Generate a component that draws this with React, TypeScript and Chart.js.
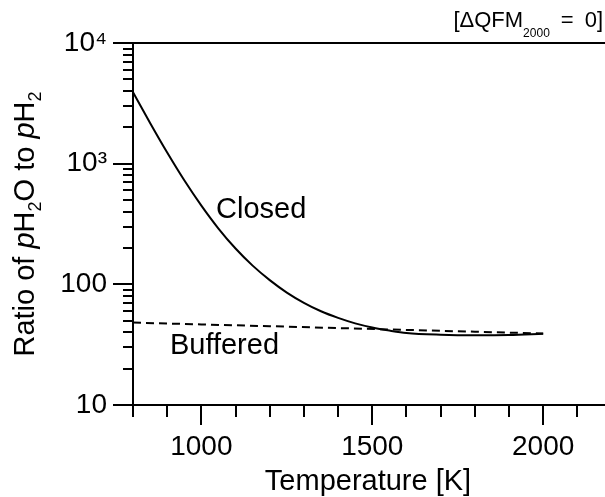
import React, { useEffect, useRef } from 'react';
import { Chart, registerables } from 'chart.js';

Chart.register(...registerables);

const FONT = '"Liberation Sans", Arial, Helvetica, sans-serif';

// Closed system curve (temperature K -> pH2O/pH2 ratio)
const closedTemperatureK = [800, 850, 900, 950, 1000, 1050, 1100, 1150, 1200, 1250, 1300, 1350, 1400, 1450, 1500, 1550, 1600, 1700, 1800, 1900, 2000];
const closedRatio = [3908, 2173, 1236, 728, 449, 290, 198, 142.9, 108.4, 85.5, 70.3, 59.8, 52.7, 47.5, 43.9, 41.4, 39.5, 38.2, 37.8, 38.0, 38.9];

// Buffered curve
const bufferedTemperatureK = [800, 1000, 1200, 1400, 1600, 1800, 2000];
const bufferedRatio = [48.2, 46.5, 45.0, 43.4, 41.9, 40.5, 39.1];

// Axes
const xRange = [800, 2175];
const xTickValues = [1000, 1500, 2000];
const xTickLabels = ['1000', '1500', '2000'];
const xMinorStep = 100;
const yRange = [10, 10000];
const yTickValues = [10, 100, 1000, 10000];
const yTickLabels = ['10', '100', '10³', '10⁴'];

// Text
const xTitle = 'Temperature [K]';
const closedLabel = 'Closed';
const bufferedLabel = 'Buffered';
const closedLabelAt = [1043, 355];
const bufferedLabelAt = [908, 26.6];

const decorPlugin = {
  id: 'decor',
  afterDraw(chart: any) {
    const ctx = chart.ctx as CanvasRenderingContext2D;
    const { left, right, top, bottom } = chart.chartArea;
    const xs = chart.scales.x;
    const ys = chart.scales.y;
    ctx.save();
    ctx.strokeStyle = '#000';
    ctx.fillStyle = '#000';
    ctx.lineWidth = 2;
    ctx.lineCap = 'butt';

    // axes lines + top frame
    ctx.beginPath();
    ctx.moveTo(left, top - 1);
    ctx.lineTo(left, bottom + 1);
    ctx.moveTo(left - 1, bottom);
    ctx.lineTo(chart.width, bottom);
    ctx.moveTo(left - 1, top);
    ctx.lineTo(chart.width, top);
    ctx.stroke();

    // x ticks
    for (let v = xRange[0]; v <= xRange[1]; v += xMinorStep) {
      const px = Math.round(xs.getPixelForValue(v));
      const len = xTickValues.includes(v) ? 20 : 12;
      ctx.beginPath();
      ctx.moveTo(px, bottom);
      ctx.lineTo(px, bottom + len);
      ctx.stroke();
    }
    // y ticks (log)
    for (let d = yRange[0]; d <= yRange[1]; d *= 10) {
      for (let m = 1; m <= 9; m++) {
        const v = d * m;
        if (v > yRange[1]) break;
        const py = Math.round(ys.getPixelForValue(v));
        const len = m === 1 ? 20 : 10;
        ctx.beginPath();
        ctx.moveTo(left, py);
        ctx.lineTo(left - len, py);
        ctx.stroke();
      }
    }

    // curve labels
    ctx.font = `29px ${FONT}`;
    ctx.textAlign = 'left';
    ctx.textBaseline = 'alphabetic';
    ctx.fillText(closedLabel, xs.getPixelForValue(closedLabelAt[0]), ys.getPixelForValue(closedLabelAt[1]));
    ctx.fillText(bufferedLabel, xs.getPixelForValue(bufferedLabelAt[0]), ys.getPixelForValue(bufferedLabelAt[1]));

    // y title with italic p and subscripts
    const segs: [string, string, number][] = [
      ['Ratio of ', `29px ${FONT}`, 0],
      ['p', `italic 29px ${FONT}`, 0],
      ['H', `29px ${FONT}`, 0],
      ['2', `18px ${FONT}`, 7],
      ['O to ', `29px ${FONT}`, 0],
      ['p', `italic 29px ${FONT}`, 0],
      ['H', `29px ${FONT}`, 0],
      ['2', `18px ${FONT}`, 7],
    ];
    let total = 0;
    for (const s of segs) { ctx.font = s[1]; total += ctx.measureText(s[0]).width; }
    ctx.save();
    ctx.translate(34, (top + bottom) / 2);
    ctx.rotate(-Math.PI / 2);
    let x = -total / 2;
    for (const s of segs) {
      ctx.font = s[1];
      ctx.fillText(s[0], x, s[2]);
      x += ctx.measureText(s[0]).width;
    }
    ctx.restore();

    // top-right annotation
    const ann: [string, string, number][] = [
      ['[ΔQFM', `22px ${FONT}`, 0],
      ['2000', `12px ${FONT}`, 10],
      ['\u2002=\u20020]', `22px ${FONT}`, 0],
    ];
    let aw = 0;
    for (const s of ann) { ctx.font = s[1]; aw += ctx.measureText(s[0]).width; }
    let ax = right - aw;
    for (const s of ann) {
      ctx.font = s[1];
      ctx.fillText(s[0], ax, 27 + s[2]);
      ax += ctx.measureText(s[0]).width;
    }
    ctx.restore();
  },
};

export default function App() {
  const ref = useRef<HTMLCanvasElement | null>(null);
  useEffect(() => {
    if (!ref.current) return;
    Chart.defaults.font.family = FONT;
    Chart.defaults.color = '#000';
    const chart = new Chart(ref.current, {
      type: 'line',
      data: {
        datasets: [
          {
            label: 'Closed',
            data: closedTemperatureK.map((t, i) => ({ x: t, y: closedRatio[i] })),
            borderColor: '#000',
            borderWidth: 2,
            pointRadius: 0,
            cubicInterpolationMode: 'monotone',
            fill: false,
          },
          {
            label: 'Buffered',
            data: bufferedTemperatureK.map((t, i) => ({ x: t, y: bufferedRatio[i] })),
            borderColor: '#000',
            borderWidth: 2,
            borderDash: [8, 5],
            pointRadius: 0,
            fill: false,
          },
        ],
      },
      options: {
        animation: false,
        responsive: true,
        maintainAspectRatio: false,
        layout: { padding: { left: 0, top: 43, right: 2, bottom: 0 } },
        plugins: { legend: { display: false }, tooltip: { enabled: false } },
        scales: {
          x: {
            type: 'linear',
            min: xRange[0],
            max: xRange[1],
            afterBuildTicks: (s: any) => { s.ticks = xTickValues.map((v) => ({ value: v })); },
            afterFit: (s: any) => { s.height = 92; },
            ticks: {
              font: { size: 28 },
              color: '#000',
              padding: 25,
              maxRotation: 0,
              autoSkip: false,
              callback: (v: any) => {
                const i = xTickValues.indexOf(Number(v));
                return i >= 0 ? xTickLabels[i] : '';
              },
            },
            grid: { display: false, drawTicks: false },
            border: { display: false },
            title: { display: true, text: xTitle, color: '#000', font: { size: 29 }, padding: { top: 0, bottom: -2 } },
          },
          y: {
            type: 'logarithmic',
            min: yRange[0],
            max: yRange[1],
            afterBuildTicks: (s: any) => { s.ticks = yTickValues.map((v) => ({ value: v })); },
            afterFit: (s: any) => { s.width = 133; },
            ticks: {
              font: { size: 28 },
              color: '#000',
              padding: 26,
              autoSkip: false,
              callback: (v: any) => {
                const i = yTickValues.indexOf(Number(v));
                return i >= 0 ? yTickLabels[i] : '';
              },
            },
            grid: { display: false, drawTicks: false },
            border: { display: false },
          },
        },
      } as any,
      plugins: [decorPlugin],
    });
    return () => chart.destroy();
  }, []);
  return (
    <div style={{ position: 'absolute', left: 0, top: 0, width: 605, height: 497, background: '#fff' }}>
      <canvas ref={ref} />
    </div>
  );
}
